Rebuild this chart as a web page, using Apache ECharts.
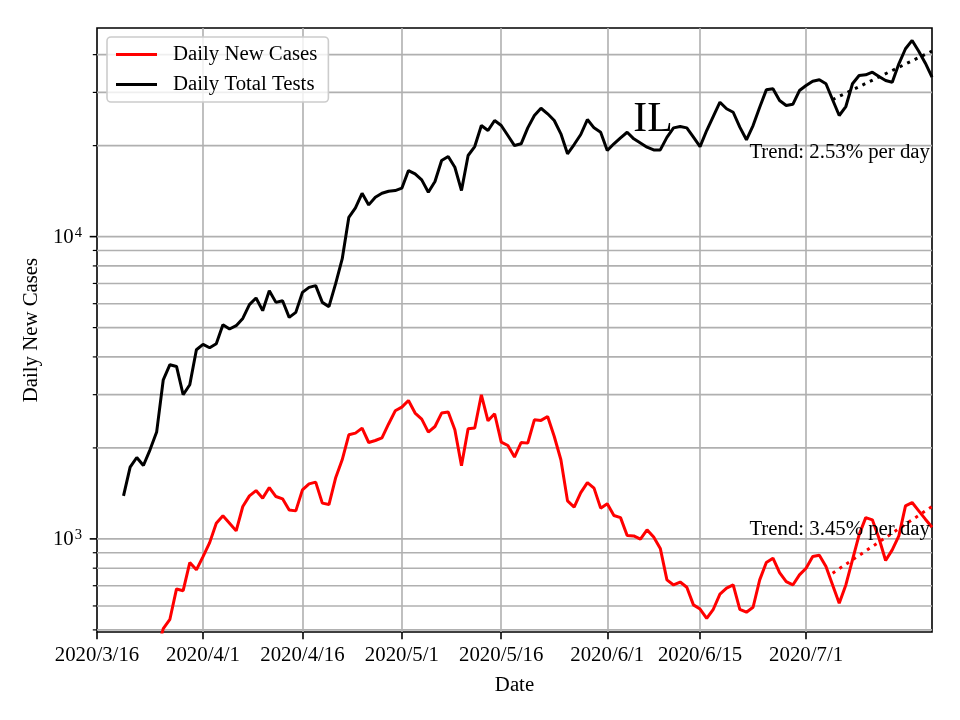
<!DOCTYPE html>
<html><head><meta charset="utf-8">
<script src="https://cdn.jsdelivr.net/npm/echarts@6/dist/echarts.min.js"></script>
<style>html,body{margin:0;padding:0;background:#fff}#c{width:960px;height:720px}</style>
</head><body><div id="c"></div>
<script>
const FONT = "'Liberation Serif','Times New Roman','DejaVu Serif',serif";
const FS = 20.8;

// x axis range and labelled ticks
const xStart = '2020/3/16';
const xEnd = '2020/7/20';
const xTickLabels = ['2020/3/16','2020/4/1','2020/4/16','2020/5/1','2020/5/16','2020/6/1','2020/6/15','2020/7/1'];

// y axis
const yMin = 492, yMax = 49000;
const yMajorTicks = [1000, 10000];
const yMinorTicks = [500,600,700,800,900,2000,3000,4000,5000,6000,7000,8000,9000,20000,30000,40000];

// Daily New Cases (IL), one value per day from casesStart
const casesStart = '2020/3/25';
const casesValues = [
  420,505,542,683,674,835,790,874,972,1127,1192,1127,1063,1280,1388,1445,1364,1479,1381,1357,
  1247,1238,1453,1521,1541,1313,1299,1589,1827,2210,2239,2326,2084,2116,2160,2400,2653,2729,2871,2608,
  2490,2256,2354,2608,2628,2296,1745,2313,2326,2998,2459,2594,2091,2037,1865,2084,2074,2477,2466,2541,
  2182,1827,1336,1274,1423,1536,1472,1264,1306,1195,1176,1026,1023,998,1071,1015,930,732,704,720,
  692,605,586,546,585,657,687,704,585,572,594,732,835,863,773,722,704,760,800,874,
  883,810,704,612,704,852,1031,1176,1156,1005,848,920,1023,1286,1319,1238,1162,1093
];

// Daily Total Tests (IL), one value per day from testsStart
const testsStart = '2020/3/20';
const testsValues = [
  1388,1728,1859,1749,1971,2256,3360,3770,3720,2998,3236,4225,4400,4290,4420,5113,4948,5074,5364,5955,
  6266,5689,6626,6060,6138,5405,5615,6540,6793,6883,6060,5866,6973,8437,11586,12446,13912,12735,13491,13912,
  14125,14200,14460,16540,16130,15410,14020,15210,17850,18400,16960,14200,18550,19860,23310,22440,24220,23310,21600,20010,
  20280,22900,25160,26590,25490,24220,21880,18790,20170,21770,24400,22900,22150,19270,20280,21230,22150,21060,20400,19760,
  19360,19360,21300,22900,23130,22900,21340,19860,22440,25000,27840,26480,25790,23020,20910,23310,26800,30590,30830,28200,
  27150,27400,30430,31620,32680,33030,32040,28360,25160,26940,32040,34130,34310,35000,33870,32860,32430,37300,41830,44570,
  41070,37480,33690
];

// Trend lines (exponential fits, straight on log scale): end points
const casesTrend = [['2020/7/5', 770], ['2020/7/20', 1280]];
const testsTrend = [['2020/7/5', 28400], ['2020/7/20', 41100]];

const titleText = 'IL';
const casesTrendText = 'Trend: 3.45% per day';
const testsTrendText = 'Trend: 2.53% per day';

// build category list
function fmt(d){ return d.getUTCFullYear() + '/' + (d.getUTCMonth()+1) + '/' + d.getUTCDate(); }
function parse(s){ const p = s.split('/').map(Number); return new Date(Date.UTC(p[0], p[1]-1, p[2])); }
const categories = [];
for (let d = parse(xStart); d <= parse(xEnd); d = new Date(d.getTime() + 86400000)) categories.push(fmt(d));
function seriesFrom(start, values){
  const i0 = categories.indexOf(start);
  return values.map((v, i) => [categories[i0 + i], v]);
}

const tickSet = new Set(xTickLabels);
const yTickData = yMajorTicks.map(v => [0, v, 1]).concat(yMinorTicks.map(v => [0, v, 0]));

const chart = echarts.init(document.getElementById('c'), null, {renderer: 'canvas'});
chart.setOption({
  animation: false,
  backgroundColor: '#ffffff',
  grid: { left: 97, right: 28, top: 28, bottom: 88, show: true, borderColor: '#000', borderWidth: 1.6, backgroundColor: 'transparent' },
  legend: {
    data: ['Daily New Cases', 'Daily Total Tests'],
    orient: 'vertical', left: 107, top: 37,
    icon: 'rect', itemWidth: 41, itemHeight: 3, itemGap: 9,
    padding: [7, 11, 7, 9],
    backgroundColor: 'rgba(255,255,255,0.8)', borderColor: '#cccccc', borderWidth: 1.6, borderRadius: 4,
    textStyle: { fontFamily: FONT, fontSize: FS, color: '#000', padding: [0, 0, 0, 11], lineHeight: 21 }
  },
  xAxis: {
    type: 'category', data: categories, boundaryGap: false,
    name: 'Date', nameLocation: 'middle', nameGap: 43,
    nameTextStyle: { fontFamily: FONT, fontSize: FS, color: '#000' },
    axisLine: { show: false },
    axisTick: { show: true, interval: (i, v) => tickSet.has(v), length: 7.3, lineStyle: { color: '#000', width: 1.6 } },
    axisLabel: { interval: (i, v) => tickSet.has(v), fontFamily: FONT, fontSize: FS, color: '#000', margin: 13 },
    splitLine: { show: true, interval: (i, v) => tickSet.has(v) && v !== xStart, lineStyle: { color: '#b0b0b0', width: 1.6 } }
  },
  yAxis: {
    type: 'log', logBase: 10, min: yMin, max: yMax,
    name: 'Daily New Cases', nameLocation: 'middle', nameGap: 54,
    nameTextStyle: { fontFamily: FONT, fontSize: FS, color: '#000' },
    axisLine: { show: false }, axisTick: { show: false }, splitLine: { show: false },
    axisLabel: {
      margin: 15, color: '#000',
      formatter: function (v) {
        const e = Math.log10(v), r = Math.round(e);
        if (Math.abs(e - r) > 1e-6) return '';
        return '{b|10}{s|' + r + '}';
      },
      rich: {
        b: { fontFamily: FONT, fontSize: FS, color: '#000', lineHeight: 22, verticalAlign: 'bottom' },
        s: { fontFamily: FONT, fontSize: 14.6, color: '#000', lineHeight: 14, verticalAlign: 'top', padding: [0, 0, 0, 1] }
      }
    }
  },
  series: [
    {
      type: 'custom', name: 'yticks', z: 1, silent: true,
      encode: { x: 0, y: 1 },
      data: yTickData,
      renderItem: function (params, api) {
        const v = api.value(1);
        const major = api.value(2) === 1;
        const y = api.coord([0, v])[1];
        const cs = params.coordSys;
        const len = major ? 7.3 : 4.2;
        return { type: 'group', children: [
          { type: 'line', shape: { x1: cs.x, y1: y, x2: cs.x + cs.width, y2: y }, style: { stroke: '#b0b0b0', lineWidth: 1.6 } },
          { type: 'line', shape: { x1: cs.x - len, y1: y, x2: cs.x, y2: y }, style: { stroke: '#000', lineWidth: major ? 1.6 : 1.2 } }
        ]};
      }
    },
    {
      name: 'Daily New Cases', type: 'line', z: 3, color: '#ff0000',
      data: seriesFrom(casesStart, casesValues),
      showSymbol: false, symbol: 'none', clip: true,
      lineStyle: { color: '#ff0000', width: 3 }
    },
    {
      name: 'Daily Total Tests', type: 'line', z: 3, color: '#000000',
      data: seriesFrom(testsStart, testsValues),
      showSymbol: false, symbol: 'none', clip: true,
      lineStyle: { color: '#000000', width: 3 }
    },
    {
      name: 'casesTrend', type: 'line', z: 3, data: casesTrend, showSymbol: false, symbol: 'none',
      lineStyle: { color: '#ff0000', width: 3, type: [3.1, 5.2] }
    },
    {
      name: 'testsTrend', type: 'line', z: 3, data: testsTrend, showSymbol: false, symbol: 'none',
      lineStyle: { color: '#000000', width: 3, type: [3.1, 5.2] }
    }
  ],
  graphic: [
    { type: 'text', x: 653, y: 120, z: 10, style: { text: titleText, fill: '#000', fontFamily: FONT, fontSize: 41.7, align: 'center', verticalAlign: 'middle' } },
    { type: 'text', x: 930, y: 153, z: 10, style: { text: testsTrendText, fill: '#000', fontFamily: FONT, fontSize: FS, align: 'right', verticalAlign: 'middle' } },
    { type: 'text', x: 930, y: 530, z: 10, style: { text: casesTrendText, fill: '#000', fontFamily: FONT, fontSize: FS, align: 'right', verticalAlign: 'middle' } }
  ]
});
</script>
</body></html>
